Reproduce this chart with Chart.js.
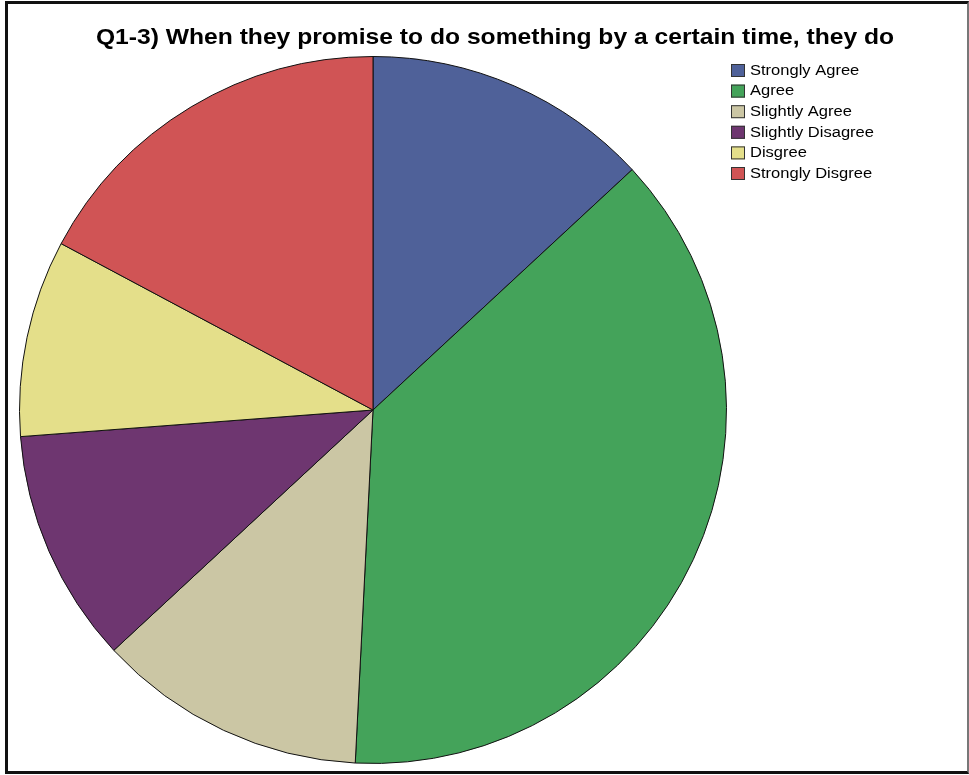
<!DOCTYPE html>
<html>
<head>
<meta charset="utf-8">
<script src="https://cdn.jsdelivr.net/npm/chart.js@4.4.1/dist/chart.umd.min.js"></script>
<style>
    html, body { margin: 0; padding: 0; background: #fff; }
    #frame {
        position: absolute;
        left: 5px; top: 1px;
        width: 959px; height: 767px;
        border: 3px solid #111;
        border-right-color: #777;
        border-right-width: 2px;
    }
    #wrap { position: absolute; left: 0; top: 0; width: 969px; height: 775px; }
</style>
</head>
<body>
<div id="frame"></div>
<div id="wrap"><canvas id="PieChart"></canvas></div>
<script>
const title = "Q1-3) When they promise to do something by a certain time, they do";
const categories = ["Strongly Agree", "Agree", "Slightly Agree", "Slightly Disagree", "Disgree", "Strongly Disgree"];
const percents = [13.1, 37.7, 12.3, 10.7, 9.0, 17.2];
const colors = ["#4f6199", "#44a35a", "#cbc6a4", "#6e3670", "#e4df8a", "#d05455"];

function PieChart() {
    const ctx = document.getElementById("PieChart");

    new Chart(ctx, {
        type: "pie",
        data: {
            labels: categories,
            datasets: [
                {
                    data: percents,
                    backgroundColor: colors,
                    borderColor: "#111",
                    borderWidth: 1,
                },
            ],
        },
        options: {
            responsive: true,
            maintainAspectRatio: false,
            animation: false,
            layout: {
                padding: { left: 19, top: 56, right: 242, bottom: 11 },
            },
            plugins: {
                legend: { display: false },
                tooltip: { enabled: false },
            },
        },
        plugins: [
            {
                // title and boxed legend on the right, text a bit wide
                id: "sideLegend",
                afterDraw(chart) {
                    const c = chart.ctx;
                    c.save();
                    c.fillStyle = "#000";
                    c.font = "bold 22px 'Liberation Sans', Arial";
                    c.textAlign = "center";
                    c.textBaseline = "middle";
                    c.save();
                    c.translate(495, 38);
                    c.scale(1.12, 1);
                    c.fillText(title, 0, 0);
                    c.restore();

                    c.font = "14px 'Liberation Sans', Arial";
                    c.textAlign = "left";
                    categories.forEach((name, i) => {
                        const y = 64 + i * 20.6;
                        c.fillStyle = colors[i];
                        c.fillRect(731, y, 14, 13);
                        c.strokeStyle = "#333";
                        c.lineWidth = 1;
                        c.strokeRect(731.5, y + 0.5, 13, 12);
                        c.fillStyle = "#000";
                        c.save();
                        c.translate(750, y + 7);
                        c.scale(1.18, 1);
                        c.fillText(name, 0, 0);
                        c.restore();
                    });
                    c.restore();
                },
            },
        ],
    });
}

PieChart();
</script>
</body>
</html>
